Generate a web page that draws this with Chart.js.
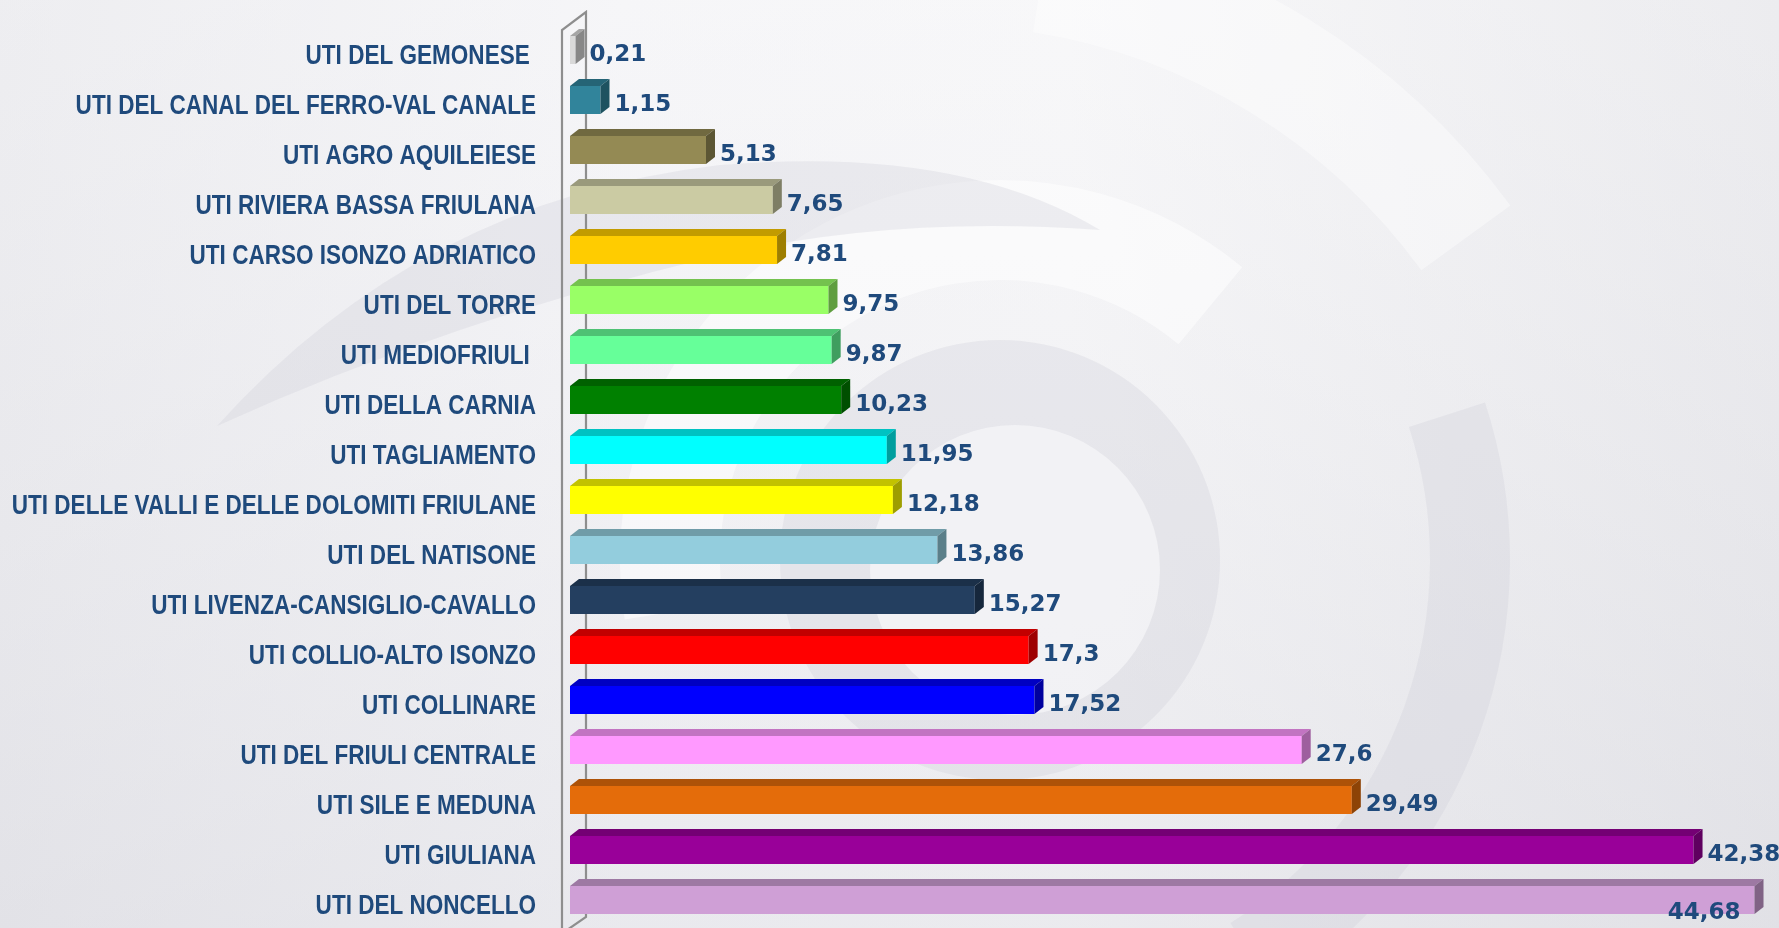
<!DOCTYPE html>
<html>
<head>
<meta charset="utf-8">
<script src="https://cdn.jsdelivr.net/npm/chart.js@4.4.1/dist/chart.umd.min.js"></script>
<style>
  html, body { margin: 0; padding: 0; background: #eeeef1; }
  #wrap { position: relative; width: 1779px; height: 928px; }
</style>
</head>
<body>
<div id="wrap"><canvas id="c" width="1779" height="928"></canvas></div>
<script>
const categories = [
  "UTI DEL GEMONESE ",
  "UTI DEL CANAL DEL FERRO-VAL CANALE",
  "UTI AGRO AQUILEIESE",
  "UTI RIVIERA BASSA FRIULANA",
  "UTI CARSO ISONZO ADRIATICO",
  "UTI DEL TORRE",
  "UTI MEDIOFRIULI ",
  "UTI DELLA CARNIA",
  "UTI TAGLIAMENTO",
  "UTI DELLE VALLI E DELLE DOLOMITI FRIULANE",
  "UTI DEL NATISONE",
  "UTI LIVENZA-CANSIGLIO-CAVALLO",
  "UTI COLLIO-ALTO ISONZO",
  "UTI COLLINARE",
  "UTI DEL FRIULI CENTRALE",
  "UTI SILE E MEDUNA",
  "UTI GIULIANA",
  "UTI DEL NONCELLO"
];
const values = [0.21, 1.15, 5.13, 7.65, 7.81, 9.75, 9.87, 10.23, 11.95, 12.18, 13.86, 15.27, 17.3, 17.52, 27.6, 29.49, 42.38, 44.68];
const barColors = [
  "#d9d9d9", "#31849b", "#948a54", "#cbcba3", "#ffcc00", "#99ff66", "#66ff99", "#008000", "#00ffff",
  "#ffff00", "#93cddd", "#243f60", "#ff0000", "#0000ff", "#ff99ff", "#e46c0a", "#990099", "#cf9fd6"
];

const TEXT_COLOR = "#1f4a7c";
const DX = 9, DY = 7;

function shade(hex, f) {
  const n = parseInt(hex.slice(1), 16);
  const r = Math.round(((n >> 16) & 255) * f);
  const g = Math.round(((n >> 8) & 255) * f);
  const b = Math.round((n & 255) * f);
  return `rgb(${r},${g},${b})`;
}
function fmt(v) { return String(v).replace('.', ','); }

const bgPlugin = {
  id: 'bg',
  beforeDraw(chart) {
    const ctx = chart.ctx, W = chart.width, H = chart.height;
    ctx.save();
    const g = ctx.createLinearGradient(0, 0, W, 0);
    g.addColorStop(0, '#e8e8ec');
    g.addColorStop(0.35, '#f3f3f6');
    g.addColorStop(0.6, '#f5f5f7');
    g.addColorStop(1, '#e6e6ea');
    ctx.fillStyle = g;
    ctx.fillRect(0, 0, W, H);
    const g2 = ctx.createLinearGradient(0, 0, 0, H);
    g2.addColorStop(0, 'rgba(255,255,255,0.25)');
    g2.addColorStop(1, 'rgba(215,215,222,0.35)');
    ctx.fillStyle = g2;
    ctx.fillRect(0, 0, W, H);
    // faint watermark swirl
    const cx = 1000, cy = 560;
    const dark = 'rgba(205,205,214,0.30)';
    ctx.lineCap = 'butt';
    ctx.strokeStyle = 'rgba(255,255,255,0.5)';
    ctx.lineWidth = 100;
    ctx.beginPath(); ctx.arc(cx, cy, 330, Math.PI * 0.95, Math.PI * 1.72); ctx.stroke();
    ctx.strokeStyle = 'rgba(255,255,255,0.4)';
    ctx.lineWidth = 110;
    ctx.beginPath(); ctx.arc(cx - 60, cy + 60, 650, -Math.PI * 0.45, -Math.PI * 0.2); ctx.stroke();
    ctx.fillStyle = dark;
    ctx.beginPath();
    ctx.moveTo(217, 426);
    ctx.quadraticCurveTo(420, 200, 720, 165);
    ctx.quadraticCurveTo(960, 145, 1100, 230);
    ctx.quadraticCurveTo(900, 215, 720, 255);
    ctx.quadraticCurveTo(450, 320, 217, 426);
    ctx.closePath();
    ctx.fill();
    ctx.fillStyle = dark;
    ctx.beginPath(); ctx.arc(cx, cy, 220, 0, Math.PI * 2); ctx.fill();
    ctx.fillStyle = 'rgba(250,250,252,0.6)';
    ctx.beginPath(); ctx.arc(cx + 15, cy + 10, 145, 0, Math.PI * 2); ctx.fill();
    ctx.strokeStyle = dark;
    ctx.lineWidth = 80;
    ctx.beginPath(); ctx.arc(cx, cy, 470, -Math.PI * 0.1, Math.PI * 0.32); ctx.stroke();
    ctx.restore();
  }
};

const wallPlugin = {
  id: 'wall',
  beforeDatasetsDraw(chart) {
    const ctx = chart.ctx, a = chart.chartArea;
    const fx = a.left - 8, bx = a.left + 16;
    ctx.save();
    ctx.strokeStyle = '#8e8e8e';
    ctx.lineWidth = 2.2;
    ctx.beginPath();
    ctx.moveTo(fx, chart.height + 2);
    ctx.lineTo(fx, a.top + 5);
    ctx.lineTo(bx, a.top - 13);
    ctx.lineTo(bx, a.bottom - 8);
    ctx.lineTo(fx + 5, chart.height + 2);
    ctx.stroke();
    ctx.restore();
  }
};

const catLabelPlugin = {
  id: 'catLabels',
  afterDraw(chart) {
    const ctx = chart.ctx, ys = chart.scales.y;
    ctx.save();
    ctx.font = 'bold 28px "Liberation Sans", Arial, sans-serif';
    ctx.fillStyle = TEXT_COLOR;
    ctx.textAlign = 'right';
    ctx.textBaseline = 'middle';
    chart.data.labels.forEach((lab, i) => {
      const y = ys.getPixelForTick(i) + 6;
      ctx.save();
      ctx.translate(chart.chartArea.left - 34, y);
      ctx.scale(0.805, 1);
      ctx.fillText(lab, 0, 0);
      ctx.restore();
    });
    ctx.restore();
  }
};

const bar3dPlugin = {
  id: 'bar3d',
  afterDatasetsDraw(chart) {
    const ctx = chart.ctx;
    const meta = chart.getDatasetMeta(0);
    ctx.save();
    meta.data.forEach((bar, i) => {
      const p = bar.getProps(['x', 'y', 'base', 'height'], true);
      const top = p.y - p.height / 2, bot = p.y + p.height / 2;
      const col = barColors[i];
      ctx.fillStyle = shade(col, 0.76);
      ctx.beginPath();
      ctx.moveTo(p.base, top);
      ctx.lineTo(p.base + DX, top - DY);
      ctx.lineTo(p.x + DX, top - DY);
      ctx.lineTo(p.x, top);
      ctx.closePath();
      ctx.fill();
      ctx.fillStyle = shade(col, 0.62);
      ctx.beginPath();
      ctx.moveTo(p.x, top);
      ctx.lineTo(p.x + DX, top - DY);
      ctx.lineTo(p.x + DX, bot - DY);
      ctx.lineTo(p.x, bot);
      ctx.closePath();
      ctx.fill();
    });
    ctx.font = 'bold 23px "DejaVu Sans"';
    ctx.fillStyle = TEXT_COLOR;
    ctx.textBaseline = 'middle';
    meta.data.forEach((bar, i) => {
      const p = bar.getProps(['x', 'y'], true);
      const txt = fmt(values[i]);
      const w = ctx.measureText(txt).width;
      let x = p.x + DX + 5, y = p.y + 5;
      if (x + w > chart.width + 8) {
        ctx.textAlign = 'right';
        x = p.x - 14; y = p.y + 13;
      } else {
        ctx.textAlign = 'left';
      }
      ctx.fillText(txt, x, y);
    });
    ctx.restore();
  }
};

new Chart(document.getElementById('c'), {
  type: 'bar',
  data: {
    labels: categories,
    datasets: [{
      data: values,
      backgroundColor: barColors,
      borderWidth: 0,
      barPercentage: 0.56,
      categoryPercentage: 1.0
    }]
  },
  options: {
    indexAxis: 'y',
    responsive: false,
    animation: false,
    layout: { padding: { top: 25, bottom: 3, left: 0, right: 16 } },
    plugins: { legend: { display: false }, tooltip: { enabled: false } },
    scales: {
      x: {
        display: false,
        min: 0,
        max: 45
      },
      y: {
        afterFit(scale) { scale.width = 570; scale.paddingTop = 0; scale.paddingBottom = 0; },
        border: { display: false },
        grid: { display: false, drawTicks: false },
        ticks: { display: false, autoSkip: false }
      }
    }
  },
  plugins: [bgPlugin, wallPlugin, bar3dPlugin, catLabelPlugin]
});
</script>
</body>
</html>
